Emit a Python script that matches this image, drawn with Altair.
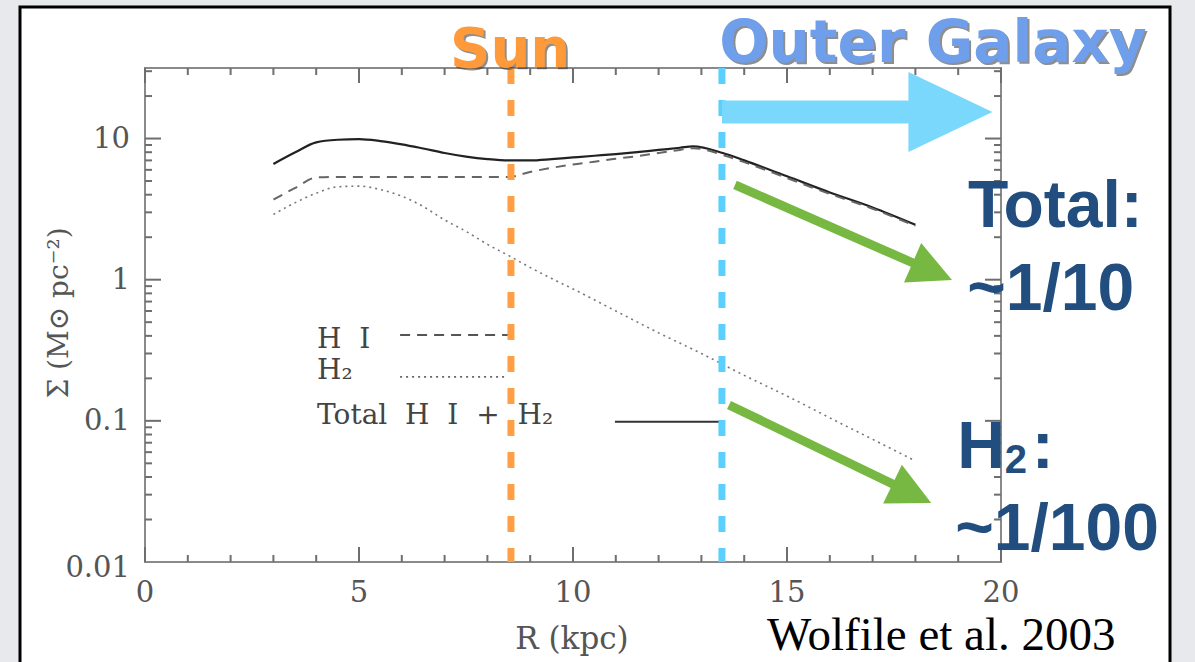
import altair as alt
import pandas as pd

# Radial gas surface density of the Milky Way disk (R in kpc, Sigma in Msun pc^-2)
r_total = [3, 3.5, 4, 4.5, 5, 5.5, 6, 6.5, 7, 7.5, 8, 8.5, 9, 9.5, 10, 10.5, 11,
           11.5, 12, 12.5, 12.8, 13.5, 14, 15, 16, 17, 18]
sig_total = [6.6, 7.95, 9.4, 9.8, 9.9, 9.6, 9.1, 8.5, 7.9, 7.45, 7.15, 7.0, 7.0,
             7.15, 7.35, 7.55, 7.75, 8.0, 8.3, 8.6, 8.8, 7.9, 7.0, 5.4, 4.15, 3.25, 2.45]

r_hi = [3, 3.5, 4, 4.5, 5, 6, 7, 8, 8.5, 9, 9.5, 10, 10.5, 11, 11.5, 12, 12.5,
        12.8, 13.5, 14, 15, 16, 17, 18]
sig_hi = [3.7, 4.45, 5.3, 5.35, 5.35, 5.35, 5.35, 5.35, 5.35, 5.8, 6.2, 6.55,
          6.85, 7.2, 7.5, 7.9, 8.3, 8.55, 7.65, 6.8, 5.25, 4.05, 3.18, 2.4]

r_h2 = [3, 3.5, 4, 4.5, 5, 5.5, 6, 6.5, 7, 7.5, 8, 8.5, 9, 9.5, 10, 11, 12, 13,
        14, 15, 16, 17, 18]
sig_h2 = [2.9, 3.5, 4.1, 4.55, 4.6, 4.35, 3.9, 3.3, 2.65, 2.2, 1.78, 1.48, 1.22,
          1.02, 0.86, 0.6, 0.42, 0.3, 0.21, 0.15, 0.105, 0.074, 0.052]

R_SUN = 8.55
R_OUTER = 13.48

x_labels = [0, 5, 10, 15, 20]
x_minor = [v for v in range(1, 20) if v % 5]
y_labels = [0.1, 1, 10]
y_bottom_label = [0.01]
y_major = [0.1, 1, 10]
y_minor = [round(m * d, 4) for d in (0.01, 0.1, 1, 10) for m in range(2, 10) if m * d <= 30]

NB = "\u00a0"
key_labels = ["H" + NB * 2 + "I", "H₂", (NB * 2).join(["Total", "H", "I", "+", "H₂"])]

W, H = 856, 494
X_DOMAIN = [0, 20]
Y_DOMAIN = [0.01, 31.6]

SERIF = "DejaVu Serif"
SANS = "Liberation Sans"
ROUND = "DejaVu Sans"
AXIS_GREY = "#555"
NAVY = "#214e7e"
GREEN = "#77b843"
SKY = "#7ad8fc"
ORANGE = "#ff9f45"
CYAN = "#5ccffc"
HEAD = "M 0 0 L -2 -1 L -2 1 Z"
WIDE_HEAD = "M 0 0 L -2.1 -1 L -2.1 1 Z"

xs = alt.Scale(domain=X_DOMAIN, nice=False, zero=False)
ys = alt.Scale(type="log", domain=Y_DOMAIN, nice=False)


def X(field):
    return alt.X(field, type="quantitative", scale=xs, axis=None)


def Y(field):
    return alt.Y(field, type="quantitative", scale=ys, axis=None)


one = pd.DataFrame({"a": [0]})

# white slide panel with black border
panel = alt.Chart(one).mark_rect(fill="white", stroke="black", strokeWidth=3).encode(
    x=alt.value(-125), x2=alt.value(1025), y=alt.value(-61), y2=alt.value(620)
)

frame = alt.Chart(one).mark_rect(fillOpacity=0, stroke="#8a8a8a", strokeWidth=2).encode(
    x=alt.value(0), x2=alt.value(W), y=alt.value(0), y2=alt.value(H)
)


def xticks(vals, length, bottom):
    return alt.Chart(pd.DataFrame({"r": vals})).mark_rule(color="#6e6e6e", strokeWidth=2).encode(
        x=X("r"),
        y=alt.value(H if bottom else 0),
        y2=alt.value(H - length if bottom else length),
    )


def yticks(vals, length, left):
    return alt.Chart(pd.DataFrame({"s": vals})).mark_rule(color="#6e6e6e", strokeWidth=2).encode(
        y=Y("s"),
        x=alt.value(0 if left else W),
        x2=alt.value(length if left else W - length),
    )


ticks = [
    xticks(x_labels, 15, True), xticks(x_minor, 7, True),
    xticks(x_labels, 15, False), xticks(x_minor, 7, False),
    yticks(y_major, 16, True), yticks(y_minor, 7, True),
    yticks(y_major, 16, False), yticks(y_minor, 7, False),
]

# tick labels and axis titles
x_tick_text = alt.Chart(pd.DataFrame({"v": x_labels})).mark_text(
    font=SERIF, fontSize=29, color=AXIS_GREY, baseline="middle", align="center"
).encode(x=X("v"), y=alt.value(H + 31), text=alt.Text("v:Q", format="d"))
y_tick_text = alt.Chart(pd.DataFrame({"v": y_labels})).mark_text(
    font=SERIF, fontSize=29, color=AXIS_GREY, baseline="middle", align="right"
).encode(y=Y("v"), x=alt.value(-15), text=alt.Text("v:Q", format="~g"))
y_tick_text_low = alt.Chart(pd.DataFrame({"v": y_bottom_label})).mark_text(
    font=SERIF, fontSize=29, color=AXIS_GREY, baseline="middle", align="right", dy=6
).encode(y=Y("v"), x=alt.value(-15), text=alt.Text("v:Q", format="~g"))
x_title = alt.Chart(one).mark_text(
    text="R (kpc)", font=SERIF, fontSize=31, color=AXIS_GREY, baseline="middle", align="center"
).encode(x=alt.value(W / 2 - 1), y=alt.value(H + 78))
y_title = alt.Chart(one).mark_text(
    text="Σ (M⊙ pc⁻²)", font=SERIF, fontSize=28, color=AXIS_GREY,
    baseline="middle", align="center", angle=270
).encode(x=alt.value(-85), y=alt.value(245))

total = alt.Chart(pd.DataFrame({"r": r_total, "s": sig_total})).mark_line(
    color="#222", strokeWidth=2.2, interpolate="monotone"
).encode(x=X("r"), y=Y("s"))
hi = alt.Chart(pd.DataFrame({"r": r_hi, "s": sig_hi})).mark_line(
    color="#666", strokeWidth=2, strokeDash=[10, 7], interpolate="monotone"
).encode(x=X("r"), y=Y("s"))
h2 = alt.Chart(pd.DataFrame({"r": r_h2, "s": sig_h2})).mark_line(
    color="#777", strokeWidth=1.6, strokeDash=[2, 4], interpolate="monotone"
).encode(x=X("r"), y=Y("s"))

# in-plot key
key_text = alt.Chart(pd.DataFrame({
    "label": key_labels,
    "r": [4.02, 4.02, 4.02],
    "s": [0.375, 0.226, 0.109],
})).mark_text(align="left", baseline="middle", font=SERIF, fontSize=28, color="#444").encode(
    x=X("r"), y=Y("s"), text="label:N"
)
key_hi = alt.Chart(pd.DataFrame({"r0": [5.96], "r1": [8.53], "s": [0.406]})).mark_rule(
    color="#555", strokeWidth=2, strokeDash=[10, 7]
).encode(x=X("r0"), x2="r1", y=Y("s"))
key_h2 = alt.Chart(pd.DataFrame({"r0": [5.96], "r1": [8.45], "s": [0.205]})).mark_rule(
    color="#666", strokeWidth=1.6, strokeDash=[2, 4]
).encode(x=X("r0"), x2="r1", y=Y("s"))
key_tot = alt.Chart(pd.DataFrame({"r0": [10.98], "r1": [13.48], "s": [0.0985]})).mark_rule(
    color="#333", strokeWidth=2
).encode(x=X("r0"), x2="r1", y=Y("s"))

# vertical markers for the solar circle and the outer galaxy boundary
vlines = pd.DataFrame({"top": [Y_DOMAIN[1]], "bot": [Y_DOMAIN[0]]})
sun_line = alt.Chart(vlines.assign(r=R_SUN)).mark_rule(
    color=ORANGE, strokeWidth=7, strokeDash=[16, 16], strokeCap="butt"
).encode(x=X("r"), y=Y("top"), y2="bot")
outer_line = alt.Chart(vlines.assign(r=R_OUTER)).mark_rule(
    color=CYAN, strokeWidth=7, strokeDash=[16, 16], strokeCap="butt"
).encode(x=X("r"), y=Y("top"), y2="bot")

# arrows
blue_shaft = alt.Chart(pd.DataFrame({"r0": [R_OUTER], "r1": [17.85], "s": [15.4]})).mark_rule(
    color=SKY, strokeWidth=23, strokeCap="butt"
).encode(x=X("r0"), x2="r1", y=Y("s"))
blue_head = alt.Chart(pd.DataFrame({"r": [19.8], "s": [15.4]})).mark_point(
    shape=WIDE_HEAD, size=6400, filled=True, color=SKY, opacity=1, strokeWidth=0
).encode(x=X("r"), y=Y("s"))

green_shafts = alt.Chart(pd.DataFrame({
    "r0": [13.785, 13.645], "s0": [4.69, 0.1296],
    "r1": [18.04, 17.59], "s1": [1.276, 0.0343],
})).mark_rule(color=GREEN, strokeWidth=9, strokeCap="butt").encode(
    x=X("r0"), y=Y("s0"), x2="r1", y2="s1"
)
green_head1 = alt.Chart(pd.DataFrame({"r": [18.855], "s": [0.995]})).mark_point(
    shape=HEAD, size=1850, filled=True, color=GREEN, opacity=1, strokeWidth=0, angle=23.6
).encode(x=X("r"), y=Y("s"))
green_head2 = alt.Chart(pd.DataFrame({"r": [18.37], "s": [0.0262]})).mark_point(
    shape=HEAD, size=1850, filled=True, color=GREEN, opacity=1, strokeWidth=0, angle=25.8
).encode(x=X("r"), y=Y("s"))


def label(text, r, s, color, font, size, weight="normal", align="left", dx=0, dy=0, opacity=1):
    return alt.Chart(pd.DataFrame({"t": [text], "r": [r], "s": [s]})).mark_text(
        align=align, baseline="alphabetic", font=font, fontSize=size, fontWeight=weight,
        color=color, dx=dx, dy=dy, opacity=opacity
    ).encode(x=X("r"), y=Y("s"), text="t:N")


headings = [
    label("Sun", 8.53, 32.1, "#333", ROUND, 56, "bold", "center", 2, 2, 0.55),
    label("Sun", 8.53, 32.1, "#ff9a3a", ROUND, 56, "bold", "center"),
    label("Outer Galaxy", 18.41, 34.9, "#333", ROUND, 58, "bold", "center", 2, 2, 0.55),
    label("Outer Galaxy", 18.41, 34.9, "#6f9eea", ROUND, 58, "bold", "center"),
]

ratios = [
    label("Total:", 19.23, 2.37, NAVY, SANS, 66, "bold"),
    label("~1/10", 19.21, 0.611, NAVY, SANS, 66, "bold"),
    label("H", 18.98, 0.0463, NAVY, SANS, 66, "bold"),
    label("2", 20.09, 0.0428, NAVY, SANS, 40, "bold"),
    label(":", 20.72, 0.0463, NAVY, SANS, 66, "bold"),
    label("~1/100", 18.93, 0.01216, NAVY, SANS, 66, "bold"),
    label("Wolfile et al. 2003", 14.53, 0.00238, "black", "Liberation Serif", 47),
]

chart = alt.layer(
    panel, frame, *ticks,
    x_tick_text, y_tick_text, y_tick_text_low, x_title, y_title,
    total, hi, h2,
    key_text, key_hi, key_h2, key_tot,
    sun_line, outer_line,
    blue_shaft, blue_head, green_shafts, green_head1, green_head2,
    *headings, *ratios,
).properties(
    width=W, height=H,
    background="#e7e9ec",
    padding={"left": 145, "top": 68, "right": 194, "bottom": 100},
    autosize=alt.AutoSizeParams(type="none"),
).configure_view(strokeWidth=0)

chart.save("out.html", embed_options={"renderer": "svg", "actions": False})
